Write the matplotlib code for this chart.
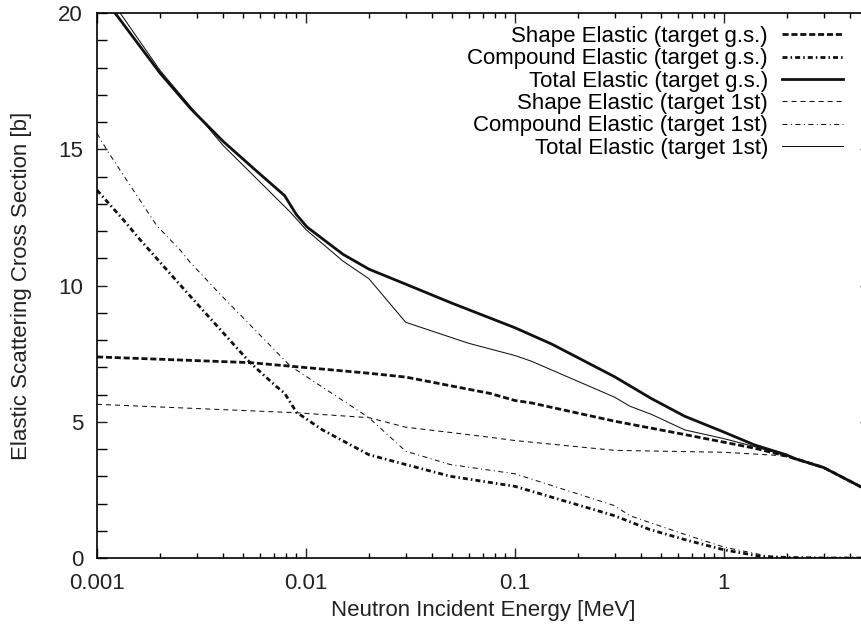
import matplotlib
matplotlib.use("Agg")
import matplotlib.pyplot as plt
from matplotlib.ticker import LogLocator, FixedLocator, MultipleLocator, NullFormatter

plt.rcParams['font.family'] = ['Liberation Sans', 'DejaVu Sans']
plt.rcParams['lines.scale_dashes'] = False

# cross sections [b], energies in MeV
e_tot_gs = [0.001, 0.00122, 0.002, 0.0028, 0.004, 0.0058, 0.0079, 0.009, 0.0101, 0.015,
            0.02, 0.03, 0.05, 0.1, 0.15, 0.3, 0.45, 0.65, 1.0, 1.4, 2.0, 2.2, 3.0, 4.5, 5.0]
tot_gs = [20.9, 20.0, 17.8, 16.5, 15.3, 14.2, 13.3, 12.6, 12.15, 11.15,
          10.6, 10.05, 9.35, 8.45, 7.85, 6.65, 5.85, 5.2, 4.62, 4.15, 3.78, 3.64, 3.32, 2.62, 2.4]

e_tot_1st = [0.001, 0.00129, 0.002, 0.004, 0.0084, 0.01, 0.015, 0.02, 0.03, 0.06,
             0.1, 0.12, 0.3, 0.355, 0.45, 0.65, 1.0, 1.4, 2.0, 2.2, 3.0, 4.5, 5.0]
tot_1st = [21.2, 20.0, 17.9, 15.15, 12.7, 12.05, 10.9, 10.25, 8.65, 7.88,
           7.43, 7.22, 5.9, 5.57, 5.27, 4.7, 4.38, 4.09, 3.74, 3.64, 3.32, 2.62, 2.4]

e_shape_gs = [0.001, 0.0054, 0.0084, 0.02, 0.03, 0.076, 0.1, 0.12, 0.3, 0.66,
              1.0, 1.4, 2.0, 2.2, 3.0, 4.5, 5.0]
shape_gs = [7.38, 7.17, 7.04, 6.78, 6.64, 6.04, 5.78, 5.69, 5.02, 4.52,
            4.25, 4.03, 3.74, 3.64, 3.32, 2.62, 2.4]

e_shape_1st = [0.001, 0.009, 0.02, 0.03, 0.05, 0.076, 0.1, 0.3, 1.0, 1.85,
               2.2, 3.0, 4.5, 5.0]
shape_1st = [5.64, 5.33, 5.15, 4.8, 4.6, 4.43, 4.31, 3.95, 3.88, 3.76,
             3.63, 3.32, 2.62, 2.4]

e_comp_gs = [0.001, 0.00134, 0.0016, 0.00232, 0.0028, 0.0054, 0.0072, 0.0079, 0.009, 0.012,
             0.02, 0.03, 0.049, 0.1, 0.3, 0.44, 0.66, 1.0, 1.5, 2.0, 3.0, 5.0]
comp_gs = [13.5, 12.4, 11.7, 10.3, 9.6, 7.17, 6.3, 6.05, 5.35, 4.7,
           3.79, 3.43, 3.0, 2.63, 1.55, 1.05, 0.66, 0.3, 0.06, 0.02, 0.0, 0.0]

e_comp_1st = [0.001, 0.00113, 0.00193, 0.0025, 0.00279, 0.00395, 0.0084, 0.02, 0.03, 0.049,
              0.1, 0.3, 0.355, 0.66, 1.0, 1.7, 3.0, 5.0]
comp_1st = [15.58, 14.9, 12.2, 11.3, 10.85, 9.62, 7.05, 5.15, 3.92, 3.43,
            3.09, 1.92, 1.55, 0.85, 0.4, 0.04, 0.0, 0.0]

fig = plt.figure(figsize=(8.62, 6.31), dpi=100)
ax = fig.add_axes([97 / 862, 73 / 631, 773 / 862, 545 / 631])

k = '#111111'
ax.plot(e_shape_gs, shape_gs, color=k, lw=2.0, dashes=(4.4, 2.0),
        label='Shape Elastic (target g.s.)')
ax.plot(e_comp_gs, comp_gs, color=k, lw=2.0, dashes=(3.6, 2.2, 1.1, 2.2),
        label='Compound Elastic (target g.s.)')
ax.plot(e_tot_gs, tot_gs, color=k, lw=2.0, label='Total Elastic (target g.s.)')
ax.plot(e_shape_1st, shape_1st, color=k, lw=0.75, dashes=(3.6, 2.9),
        label='Shape Elastic (target 1st)')
ax.plot(e_comp_1st, comp_1st, color=k, lw=0.75, dashes=(3.6, 2.5, 0.7, 2.5),
        label='Compound Elastic (target 1st)')
ax.plot(e_tot_1st, tot_1st, color=k, lw=0.75, label='Total Elastic (target 1st)')

ax.set_xscale('log')
ax.set_xlim(0.001, 5.0)
ax.set_ylim(0, 20)

ax.xaxis.set_major_locator(FixedLocator([0.001, 0.01, 0.1, 1]))
ax.set_xticklabels(['0.001', '0.01', '0.1', '1'])
ax.xaxis.set_minor_locator(LogLocator(base=10, subs=range(2, 10)))
ax.xaxis.set_minor_formatter(NullFormatter())
ax.yaxis.set_major_locator(MultipleLocator(5))
ax.yaxis.set_minor_locator(MultipleLocator(1))

ax.tick_params(axis='both', which='major', direction='in', length=7, width=1,
               labelsize=16, top=True, right=True, colors='#222222')
ax.tick_params(axis='x', which='major', pad=11)
ax.tick_params(axis='y', which='major', pad=10)
ax.tick_params(axis='x', which='minor', direction='in', length=3.5, width=1, top=True)
ax.tick_params(axis='y', which='minor', direction='in', length=7, width=1, right=False)
for s in ax.spines.values():
    s.set_linewidth(1.2)

ax.set_xlabel('Neutron Incident Energy [MeV]', fontsize=16, labelpad=4, color='#222222')
ax.set_ylabel('Elastic Scattering Cross Section [b]', fontsize=16, labelpad=19,
              color='#222222')

ax.legend(loc='upper right', bbox_to_anchor=(843 / 862, 1 - 26 / 631),
          bbox_transform=fig.transFigure, frameon=False, markerfirst=False,
          fontsize=16, handlelength=2.75, handletextpad=0.63, labelspacing=0.06,
          borderpad=0, borderaxespad=0)

fig.savefig('out.png', dpi=100)
